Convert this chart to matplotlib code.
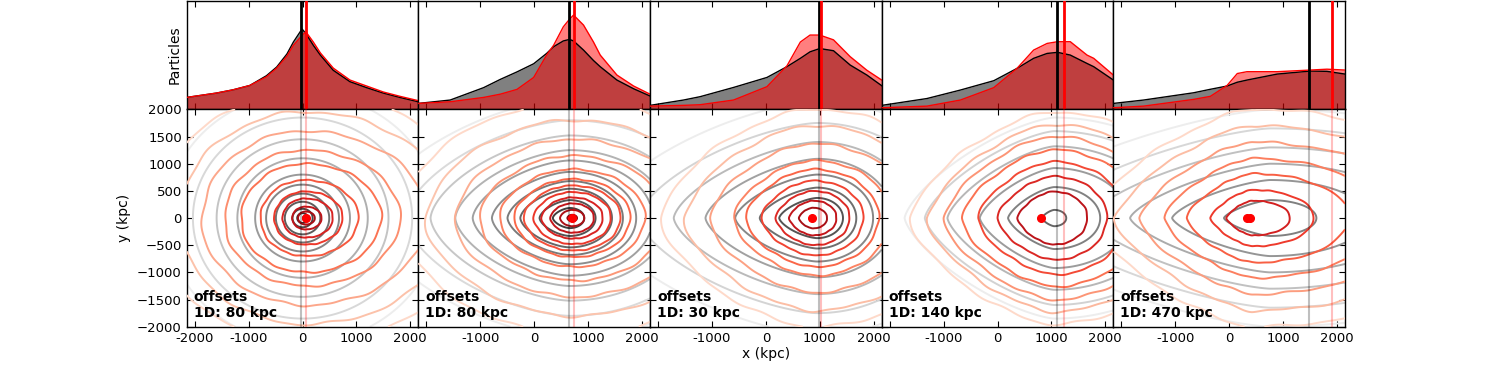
import numpy as np
import matplotlib
matplotlib.use("Agg")
import matplotlib.pyplot as plt

# ---------------- data ----------------
offset_labels = ["80", "80", "30", "140", "470"]
black_peak = [-20, 653, 994, 1095, 1480]
red_peak = [60, 735, 1025, 1225, 1910]
dot_x = [[60], [705], [858], [800], [330, 385]]

hist_x = [
    [-2150, -1600, -1290, -980, -670, -480, -290, -170, -10, 60, 200, 330, 570, 880, 1190, 1500, 1810, 2150],
    [-2150, -1560, -940, -630, -320, -10, 230, 360, 540, 655, 730, 915, 1100, 1225, 1535, 1845, 2150],
    [-2150, -1530, -1220, -600, 20, 390, 640, 820, 1000, 1255, 1565, 1875, 2150],
    [-2150, -1310, -690, -70, 360, 670, 920, 1115, 1350, 1660, 1785, 2150],
    [-2150, -1590, -660, -350, -40, 150, 330, 890, 1505, 1815, 2150],
]
hist_black = [
    [11, 15, 18, 22, 31, 39, 51, 62, 74, 70, 59, 50, 36, 25.5, 20, 15, 11, 7],
    [5.5, 8.6, 20, 27.6, 34.5, 42, 51.5, 57.7, 63, 64.4, 63, 54.6, 45, 39.3, 27, 19, 12.3],
    [3.7, 8.6, 11.7, 20.2, 29.4, 39.3, 47, 53, 56, 54, 40.8, 31.6, 21.8],
    [3.7, 10, 17.8, 26.4, 37.7, 47, 51.5, 52.5, 50, 42.3, 39.3, 27],
    [5.5, 8.6, 15.3, 18.5, 21.5, 25, 27, 32.5, 35.3, 35, 32.5],
]
hist_red = [
    [11, 15, 18, 22, 30, 38, 49, 59, 68, 71.5, 62, 52, 38, 27, 21.5, 16, 12, 8],
    [5.5, 7, 11, 14, 18.4, 29.4, 50, 59, 76, 83, 86.8, 77.6, 62, 50, 31.6, 21.5, 14],
    [3, 3.7, 4.3, 8.6, 20.9, 40, 62, 68.4, 68.4, 64, 48.5, 36, 27],
    [1.5, 3, 8.6, 20, 37.7, 54.6, 60.7, 62.3, 62.3, 50, 47, 31.6],
    [1.5, 3, 9.2, 12, 22, 33, 34.7, 34.7, 36.2, 37, 36.2],
]

# contour-field parameters (centre, left / right x-stretch, left-side pointiness)
gray_cx = [0, 660, 950, 1050, 760]
gray_sl = [1.1, 1.7, 1.9, 1.5, 2.6]
gray_sr = [1.1, 1.45, 1.3, 1.5, 2.6]
gray_pl = [2.0, 1.6, 1.5, 1.4, 1.4]
gray_levels = [
    [90, 170, 300, 450, 615, 800, 1100, 1450, 1850, 2300],
    [185, 330, 540, 680, 850, 1060, 1250, 1520, 1800, 2200],
    [370, 560, 800, 1090, 1400, 1750, 2150],
    [150, 570, 920, 1320, 1600, 1850],
    [330, 700, 1000, 1300, 1650, 2000],
]
red_cx = [60, 705, 880, 1030, 430]
red_sl = [1.2, 1.5, 1.4, 1.35, 1.5]
red_sr = [1.4, 1.5, 1.35, 1.3, 2.2]
red_pl = [2.0, 1.8, 1.6, 1.5, 1.4]
red_levels = [
    [45, 120, 210, 360, 490, 700, 1000, 1250, 1600, 1950, 2300],
    [60, 150, 270, 380, 480, 600, 720, 900, 1150, 1450, 1800, 2150],
    [190, 320, 500, 690, 900, 1060, 1370, 1700, 2000],
    [490, 770, 1040, 1260, 1500, 1720, 1950],
    [320, 520, 820, 1100, 1400, 1700, 2000],
]
# irregularity of the simulated (red) contours
red_wobble = [0.02, 0.02, 0.02, 0.02, 0.02]

# ---------------- style ----------------
gray_inner = [0.2, 0.25, 0.33, 0.4, 0.5]
red_inner = [0.95, 0.92, 0.87, 0.8, 0.72]

plt.rcParams.update({
    "font.family": "DejaVu Sans",
    "font.size": 10,
    "xtick.direction": "in",
    "ytick.direction": "in",
    "xtick.top": True,
    "ytick.right": True,
    "xtick.major.size": 4,
    "ytick.major.size": 4,
    "xtick.labelsize": 9.5,
    "ytick.labelsize": 9.5,
    "axes.linewidth": 1.0,
})

fig = plt.figure(figsize=(14.95, 3.68), dpi=100)
gs = fig.add_gridspec(2, 5, left=0.1249, right=0.8997, top=0.998, bottom=0.1122,
                      hspace=0, wspace=0, height_ratios=[1, 2])

xg = np.linspace(-2150, 2150, 430)
yg = np.linspace(-2000, 2000, 400)
X, Y = np.meshgrid(xg, yg)


def radius_field(cx, sl, sr, pl):
    dx = X - cx
    left = dx < 0
    sx = np.where(left, sl, sr)
    p = np.where(left, pl, 2.0)
    return ((np.abs(dx) / sx) ** p + np.abs(Y) ** p) ** (1.0 / p)


for i in range(5):
    axt = fig.add_subplot(gs[0, i])
    axb = fig.add_subplot(gs[1, i])

    # --- top histogram panel ---
    hx = hist_x[i]
    axt.fill_between(hx, 0, hist_black[i], color="0.5", lw=0, zorder=1)
    axt.fill_between(hx, 0, hist_red[i], color="red", alpha=0.5, lw=0, zorder=2)
    axt.plot(hx, hist_black[i], color="black", lw=1.0, zorder=3)
    axt.plot(hx, hist_red[i], color="red", lw=1.0, zorder=4)
    axt.axvline(black_peak[i], color="black", lw=2, zorder=5)
    axt.axvline(red_peak[i], color="red", lw=2, zorder=5)
    axt.set_xlim(-2150, 2150)
    axt.set_ylim(0, 100)
    axt.set_xticks([-2000, -1000, 0, 1000, 2000])
    axt.set_xticklabels([])
    axt.set_yticks([])

    # --- bottom contour panel ---
    gq = radius_field(gray_cx[i], gray_sl[i], gray_sr[i], gray_pl[i])
    glev = sorted(gray_levels[i])
    gcols = [str(v) for v in np.linspace(gray_inner[i], 0.93, len(glev))]
    axb.contour(X, Y, gq, levels=glev, colors=gcols, linewidths=1.4, zorder=2)

    rq = radius_field(red_cx[i], red_sl[i], red_sr[i], red_pl[i])
    th = np.arctan2(Y, X - red_cx[i])
    w = red_wobble[i] * np.clip(rq / 300.0, 0, 1)
    rq = rq * (1 + w * (0.5 * np.sin(9 * th + 0.7 + rq / 300.0)
                        + 0.3 * np.sin(17 * th + 2.1 - rq / 220.0)
                        + 0.2 * np.sin(4 * th + 1.3 + rq / 600.0)))
    rlev = sorted(red_levels[i])
    rcols = plt.cm.Reds(np.linspace(red_inner[i], 0.15, len(rlev)))
    axb.contour(X, Y, rq, levels=rlev, colors=rcols, linewidths=1.4, zorder=3)

    axb.axvline(black_peak[i], color="black", lw=1.5, alpha=0.25, zorder=4)
    axb.axvline(red_peak[i], color="red", lw=1.5, alpha=0.25, zorder=4)
    axb.plot(dot_x[i], [0] * len(dot_x[i]), "o", color="red", ms=5.5, mec="red", zorder=6)

    axb.text(0.03, 0.03, "offsets\n1D: %s kpc" % offset_labels[i], transform=axb.transAxes,
             fontsize=10, fontweight="bold", ha="left", va="bottom", zorder=7)

    axb.set_xlim(-2150, 2150)
    axb.set_ylim(-2000, 2000)
    axb.set_xticks([-2000, -1000, 0, 1000, 2000])
    if i == 0:
        axb.set_xticklabels(["-2000", "-1000", "0", "1000", "2000"])
    else:
        axb.set_xticklabels(["", "-1000", "0", "1000", "2000"])
    axb.set_yticks(np.arange(-2000, 2001, 500))
    if i == 0:
        axb.set_ylabel("y (kpc)")
        axt.set_ylabel("Particles")
    else:
        axb.set_yticklabels([])
    if i == 2:
        axb.set_xlabel("x (kpc)", labelpad=2)

fig.savefig("out.png", dpi=100)
